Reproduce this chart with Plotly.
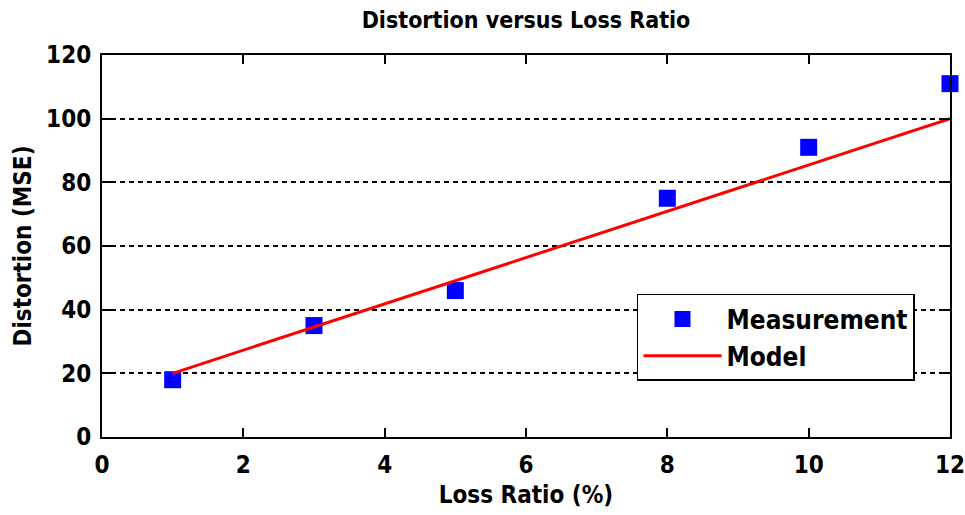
import plotly.graph_objects as go

loss_ratio = [1, 3, 5, 8, 10, 12]
distortion = [18, 35, 46, 75, 91, 111]
model_x = [1, 12]
model_y = [20, 100]
x_ticks = [0, 2, 4, 6, 8, 10, 12]
y_ticks = [0, 20, 40, 60, 80, 100, 120]

FONT = "Liberation Sans Narrow, Arial Narrow, DejaVu Sans Condensed, sans-serif"

fig = go.Figure()
fig.add_trace(go.Scatter(
    x=loss_ratio, y=distortion, mode="markers", name="Measurement",
    marker=dict(symbol="square", size=17, color="#0000ff", line=dict(width=0)),
    cliponaxis=False,
))
fig.add_trace(go.Scatter(
    x=model_x, y=model_y, mode="lines", name="Model",
    line=dict(color="#ff0000", width=3),
))

axis_common = dict(
    showline=True, linecolor="black", linewidth=2, mirror="ticks",
    ticks="inside", ticklen=9, tickwidth=2, tickcolor="black",
    zeroline=False, ticklabeloverflow="allow", automargin=False,
    tickfont=dict(family=FONT, size=24, color="black", weight="bold"),
)

fig.update_layout(
    width=965, height=515,
    margin=dict(l=102, r=15, t=55, b=78, autoexpand=False),
    paper_bgcolor="white", plot_bgcolor="white",
    title=dict(text="Distortion versus Loss Ratio", xref="paper", x=0.5,
               xanchor="center", y=0.961, yanchor="middle",
               font=dict(family=FONT, size=23, color="black", weight="bold")),
    xaxis=dict(range=[0, 12], tickvals=x_ticks, showgrid=False,
               ticklabelstandoff=5,
               title=dict(text="Loss Ratio (%)", standoff=8,
                          font=dict(family=FONT, size=24, color="black", weight="bold")),
               **axis_common),
    yaxis=dict(range=[0, 120], tickvals=y_ticks, showgrid=True,
               gridcolor="black", gridwidth=1.5, griddash="5px,4px",
               ticklabelstandoff=4,
               title=dict(text="Distortion (MSE)", standoff=8,
                          font=dict(family=FONT, size=24, color="black", weight="bold")),
               **axis_common),
    legend=dict(x=0.9587, y=0.1466, xanchor="right", yanchor="bottom",
                bgcolor="white", bordercolor="black", borderwidth=1.5,
                font=dict(family=FONT, size=26, color="black", weight="bold"),
                itemwidth=78, tracegroupgap=0),
    showlegend=True,
)

fig.write_html(
    "out.html",
    config={"displayModeBar": False},
    post_script="document.body.style.margin='0';document.body.style.overflow='hidden';",
)
